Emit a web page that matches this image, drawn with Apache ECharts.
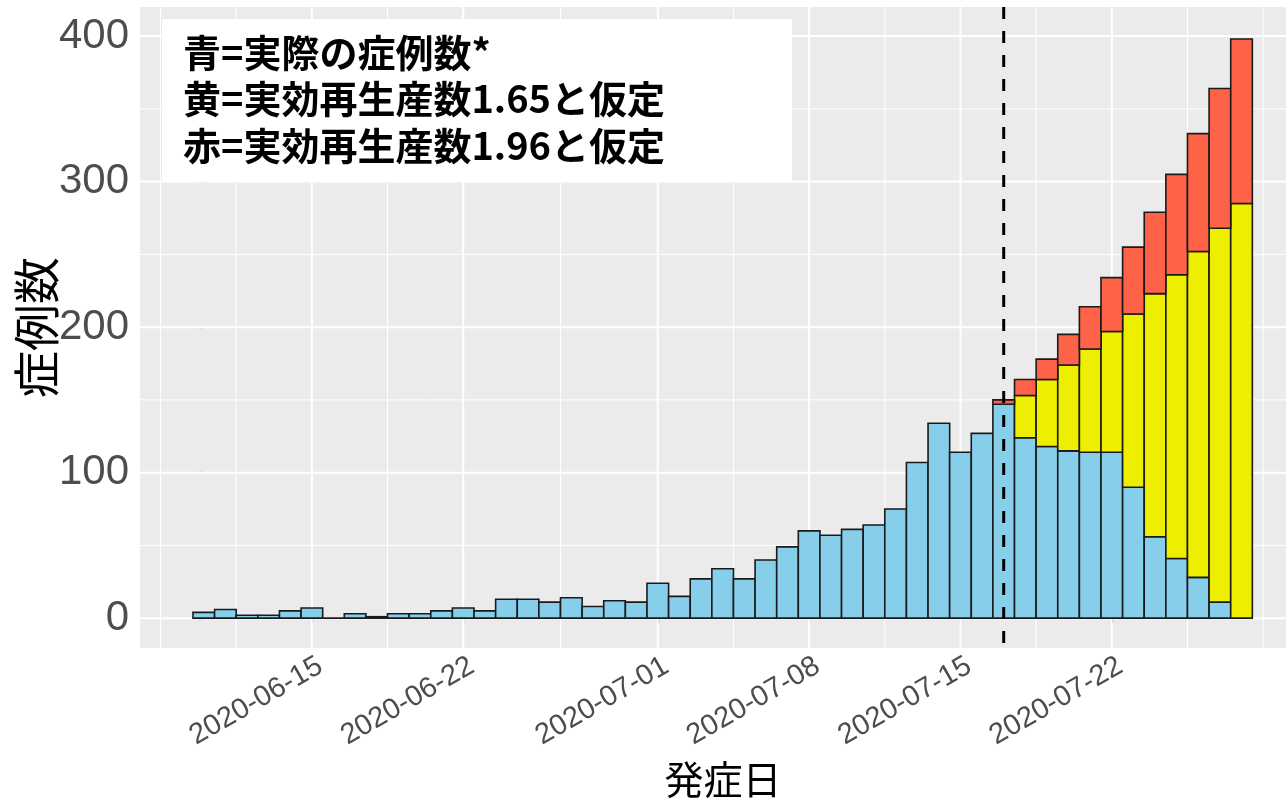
<!DOCTYPE html>
<html>
<head>
<meta charset="utf-8">
<script src="https://cdn.jsdelivr.net/npm/echarts@6/dist/echarts.min.js"></script>
<style>
  html, body { margin: 0; padding: 0; background: #ffffff; }
  #chart { width: 1286px; height: 799px; }
</style>
</head>
<body>
<div id="chart"></div>
<script>
// ---------------- data ----------------
const dates = [
  '2020-06-10','2020-06-11','2020-06-12','2020-06-13','2020-06-14','2020-06-15','2020-06-16',
  '2020-06-17','2020-06-18','2020-06-19','2020-06-20','2020-06-21','2020-06-22','2020-06-23',
  '2020-06-24','2020-06-25','2020-06-26','2020-06-27','2020-06-28','2020-06-29','2020-06-30',
  '2020-07-01','2020-07-02','2020-07-03','2020-07-04','2020-07-05','2020-07-06','2020-07-07',
  '2020-07-08','2020-07-09','2020-07-10','2020-07-11','2020-07-12','2020-07-13','2020-07-14',
  '2020-07-15','2020-07-16','2020-07-17','2020-07-18','2020-07-19','2020-07-20','2020-07-21',
  '2020-07-22','2020-07-23','2020-07-24','2020-07-25','2020-07-26','2020-07-27','2020-07-28'
];
// 青 = actual onset counts
const actual = [
  4, 6, 2, 2, 5, 7, 0,
  3, 1, 3, 3, 5, 7, 5,
  13, 13, 11, 14, 8, 12, 11,
  24, 15, 27, 34, 27, 40, 49,
  60, 57, 61, 64, 75, 107, 134,
  114, 127, 147, 124, 118, 115, 114,
  114, 90, 56, 41, 28, 11, 0
];
// 黄 = projected total assuming Rt = 1.65
const proj165 = [
  null, null, null, null, null, null, null,
  null, null, null, null, null, null, null,
  null, null, null, null, null, null, null,
  null, null, null, null, null, null, null,
  null, null, null, null, null, null, null,
  null, null, null, 153, 164, 174, 185,
  197, 209, 223, 236, 252, 268, 285
];
// 赤 = projected total assuming Rt = 1.96
const proj196 = [
  null, null, null, null, null, null, null,
  null, null, null, null, null, null, null,
  null, null, null, null, null, null, null,
  null, null, null, null, null, null, null,
  null, null, null, null, null, null, null,
  null, null, 150, 164, 178, 195, 214,
  234, 255, 279, 305, 333, 364, 398
];
const xTickLabels = ['2020-06-15', '2020-06-22', '2020-07-01', '2020-07-08', '2020-07-15', '2020-07-22'];
const yTicks = [0, 100, 200, 300, 400];
const yMinorTicks = [50, 150, 250, 350];
const cutoffDate = '2020-07-17';
const legendLines = ['青=実際の症例数*', '黄=実効再生産数1.65と仮定', '赤=実効再生産数1.96と仮定'];

const colBlue = '#87CEEB', colYellow = '#EEEE00', colRed = '#FF6347';

// ---------------- helpers ----------------
const DAY = 86400000;
function ts(s) { const p = s.split('-').map(Number); return Date.UTC(p[0], p[1] - 1, p[2]); }
const t0 = ts(dates[0]);
function dayOf(s) { return (ts(s) - t0) / DAY; }

const xTickDays = xTickLabels.map(dayOf);
// ggplot-like minor breaks: majors extended one step on each side, plus midpoints
const step = xTickDays[1] - xTickDays[0];
const ext = [xTickDays[0] - step].concat(xTickDays, [xTickDays[xTickDays.length - 1] + step]);
const xMinor = [];
for (let i = 0; i < ext.length; i++) {
  xMinor.push(ext[i]);
  if (i < ext.length - 1) xMinor.push((ext[i] + ext[i + 1]) / 2);
}

// stacked segments [day, bottom, top]
const blueData = [], yellowData = [], redData = [];
dates.forEach((d, i) => {
  const x = dayOf(d);
  blueData.push([x, 0, actual[i]]);
  if (proj165[i] != null) yellowData.push([x, actual[i], proj165[i]]);
  if (proj196[i] != null) {
    const base = Math.max(actual[i], proj165[i] != null ? proj165[i] : 0);
    redData.push([x, base, proj196[i]]);
  }
});

// axis limits (ggplot 5% expansion around bar extents); the plot is cropped at the right page edge
const n = dates.length;
const xMin = -0.5 - 0.05 * n, xMaxFull = (n - 0.5) + 0.05 * n;
const gridLeft = 140, gridFullWidth = 1165.3, pageWidth = 1286;
const xMax = xMin + (xMaxFull - xMin) * (pageWidth - gridLeft) / gridFullWidth;
const yMin = -20.5, yMax = 420;

// grid lines: [x, y, kind] kind 0=v-minor 1=v-major 2=h-minor 3=h-major
const gridData = [];
xMinor.forEach(v => { if (v > xMin && v < xMax) gridData.push([v, 0, 0]); });
yMinorTicks.forEach(v => gridData.push([0, v, 2]));
xTickDays.forEach(v => gridData.push([v, 0, 1]));
yTicks.forEach(v => gridData.push([0, v, 3]));

function barSeries(name, data, color, z) {
  return {
    type: 'custom', name: name, data: data, z: z, clip: true,
    encode: { x: 0, y: [1, 2] },
    renderItem: function (params, api) {
      const x = api.value(0), y0 = api.value(1), y1 = api.value(2);
      const p0 = api.coord([x - 0.5, y1]);
      const p1 = api.coord([x + 0.5, y0]);
      return {
        type: 'rect',
        shape: { x: p0[0], y: p0[1], width: p1[0] - p0[0], height: p1[1] - p0[1] },
        style: { fill: color, stroke: '#1a1a1a', lineWidth: 1.6 }
      };
    }
  };
}

const chart = echarts.init(document.getElementById('chart'), null, { renderer: 'canvas' });
const labelFont = '"Liberation Sans", Arial, sans-serif';
const jpFont = '"Noto Sans CJK JP", sans-serif';
const boxFont = 'bold 38px "Noto Sans CJK JP"';

chart.setOption({
  animation: false,
  backgroundColor: '#ffffff',
  grid: {
    left: gridLeft, top: 7, right: 0, height: 641,
    outerBoundsMode: 'none', containLabel: false,
    show: true, backgroundColor: '#EBEBEB', borderWidth: 0
  },
  xAxis: {
    type: 'value', min: xMin, max: xMax,
    splitLine: { show: false },
    axisLine: { show: false },
    axisTick: { show: true, customValues: xTickDays, length: 5, lineStyle: { color: '#333333', width: 1.2 } },
    axisLabel: {
      customValues: xTickDays, rotate: 30, fontSize: 29, color: '#4D4D4D', fontFamily: labelFont,
      margin: 21, padding: [0, -10, 0, 0],
      formatter: function (v) {
        const i = xTickDays.findIndex(t => Math.abs(t - v) < 1e-6);
        return i >= 0 ? xTickLabels[i] : '';
      }
    },
    name: '発症日', nameLocation: 'middle', nameGap: 112, nameMoveOverlap: false,
    nameTextStyle: { fontSize: 39, color: '#000000', fontFamily: jpFont, padding: [0, 0, 0, 20] }
  },
  yAxis: {
    type: 'value', min: yMin, max: yMax,
    splitLine: { show: false },
    axisLine: { show: false },
    axisTick: { show: true, customValues: yTicks, length: 5, lineStyle: { color: '#333333', width: 1.2 } },
    axisLabel: {
      customValues: yTicks, fontSize: 42, color: '#4D4D4D', fontFamily: labelFont,
      margin: 11, padding: [18, 0, 0, 0]
    },
    name: '症例数', nameLocation: 'middle', nameRotate: 90, nameGap: 80, nameMoveOverlap: false,
    nameTextStyle: { fontSize: 47, color: '#000000', fontFamily: jpFont }
  },
  graphic: [
    { type: 'rect', left: 162, top: 19, shape: { width: 630, height: 162 }, style: { fill: '#ffffff' }, z: 50 },
    { type: 'text', left: 183, top: 34, z: 51, style: { text: legendLines[0], font: boxFont, fill: '#000000' } },
    { type: 'text', left: 183, top: 80, z: 51, style: { text: legendLines[1], font: boxFont, fill: '#000000' } },
    { type: 'text', left: 183, top: 127, z: 51, style: { text: legendLines[2], font: boxFont, fill: '#000000' } }
  ],
  series: [
    {
      type: 'custom', name: 'grid', data: gridData, z: 1, silent: true, clip: true,
      encode: { x: 0, y: 1 },
      renderItem: function (params, api) {
        const cs = params.coordSys;
        const kind = api.value(2);
        const major = (kind === 1 || kind === 3);
        let shape;
        if (kind <= 1) {
          const p = api.coord([api.value(0), 0]);
          shape = { x1: p[0], y1: cs.y, x2: p[0], y2: cs.y + cs.height };
        } else {
          const p = api.coord([0, api.value(1)]);
          shape = { x1: cs.x, y1: p[1], x2: cs.x + cs.width, y2: p[1] };
        }
        return { type: 'line', shape: shape, style: { stroke: '#ffffff', lineWidth: major ? 2 : 1 } };
      }
    },
    barSeries('青', blueData, colBlue, 2),
    barSeries('黄', yellowData, colYellow, 3),
    barSeries('赤', redData, colRed, 4),
    {
      type: 'custom', name: 'cutoff', data: [[dayOf(cutoffDate), 0]], z: 5, silent: true,
      encode: { x: 0, y: 1 },
      renderItem: function (params, api) {
        const cs = params.coordSys;
        const p = api.coord([api.value(0), 0]);
        return {
          type: 'line',
          shape: { x1: p[0], y1: cs.y, x2: p[0], y2: cs.y + cs.height },
          style: { stroke: '#000000', lineWidth: 3, lineDash: [12, 12] }
        };
      }
    }
  ]
});
</script>
</body>
</html>
